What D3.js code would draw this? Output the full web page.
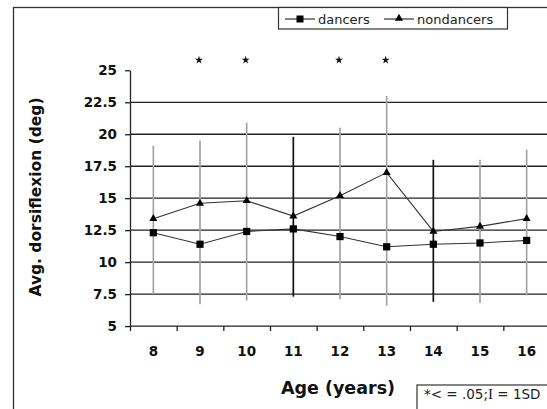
<!DOCTYPE html>
<html>
<head>
<meta charset="utf-8">
<script src="https://cdn.jsdelivr.net/npm/d3@7"></script>
<style>
  html, body { margin: 0; padding: 0; background: #fff; }
  svg { display: block; }
</style>
</head>
<body>
<svg id="chart"></svg>
<script>
// age groups (x categories)
const ages = [8, 9, 10, 11, 12, 13, 14, 15, 16];

// mean dorsiflexion per group
const dancers = [12.3, 11.4, 12.4, 12.6, 12.0, 11.2, 11.4, 11.5, 11.7];
const nondancers = [13.4, 14.6, 14.8, 13.6, 15.2, 17.0, 12.4, 12.8, 13.4];

// 1SD range drawn as one vertical bar per age
const sdLow = [7.5, 6.7, 7.0, 7.3, 7.1, 6.6, 6.9, 6.8, 7.4];
const sdHigh = [19.1, 19.5, 20.9, 19.8, 20.5, 23.0, 18.0, 18.0, 18.8];

// ages with p <= .05
const significant = [9, 10, 12, 13];

const yTicks = [5, 7.5, 10, 12.5, 15, 17.5, 20, 22.5, 25];

const width = 547;
const height = 409;

const MARGINS = { top: 70.3, bottom: 77.3, left: 130, right: -3 };

const svg = d3.select("#chart").attr("width", width).attr("height", height);

const font = "'DejaVu Sans', sans-serif";

// outer frame (runs off the picture on the right and bottom)
svg.append("rect")
  .attr("x", 13.5).attr("y", 7.5)
  .attr("width", 600).attr("height", 500)
  .attr("fill", "none").attr("stroke", "#333").attr("stroke-width", 1.3);

const y = d3.scaleLinear()
  .domain([5, 25])
  .range([height - MARGINS.bottom - 5.6, MARGINS.top]);

const x = d3.scaleBand()
  .domain(ages)
  .range([MARGINS.left, 550]);

const xEdge = d3.scaleLinear()
  .domain([0, ages.length])
  .range([MARGINS.left, 550]);

// grid lines
svg.append("g")
  .selectAll("line")
  .data(yTicks.filter((d) => d > 5 && d < 25))
  .join("line")
  .attr("x1", MARGINS.left).attr("x2", width + 5)
  .attr("y1", (d) => y(d)).attr("y2", (d) => y(d))
  .attr("stroke", "#222").attr("stroke-width", 1.3);

// x axis: ticks on the band edges, labels at band centres
const xAxisG = svg.append("g")
  .attr("transform", `translate(0, ${y(5)})`)
  .call(d3.axisBottom(xEdge).tickValues(d3.range(0, ages.length + 1)).tickFormat("").tickSize(5).tickSizeOuter(0));
xAxisG.select(".domain").attr("d", `M${MARGINS.left},0H${width + 5}`);
xAxisG.selectAll("line, path").attr("stroke", "#222").attr("stroke-width", 1.3);

svg.append("g")
  .attr("transform", `translate(0, ${y(5)})`)
  .call(d3.axisBottom(x).tickSize(0).tickPadding(20))
  .call((g) => g.select(".domain").remove())
  .selectAll("text")
  .attr("font-family", font).attr("font-weight", "bold").attr("font-size", 13.5).attr("fill", "#111");

// y axis
const yAxisG = svg.append("g")
  .attr("transform", `translate(${MARGINS.left}, 0)`)
  .call(d3.axisLeft(y).tickValues(yTicks).tickFormat((d) => d).tickSize(5).tickSizeOuter(0).tickPadding(8));
yAxisG.selectAll("line, path").attr("stroke", "#222").attr("stroke-width", 1.3);
yAxisG.selectAll("text")
  .attr("font-family", font).attr("font-weight", "bold").attr("font-size", 13.5).attr("fill", "#111");

// SD bars
svg.append("g")
  .selectAll("line")
  .data(ages)
  .join("line")
  .attr("x1", (d) => x(d) + x.bandwidth() / 2)
  .attr("x2", (d) => x(d) + x.bandwidth() / 2)
  .attr("y1", (d, i) => y(sdLow[i]))
  .attr("y2", (d, i) => y(sdHigh[i]))
  .attr("stroke", (d) => (d === 11 || d === 14 ? "#111" : "#a3a3a3"))
  .attr("stroke-width", 1.7);

const cx = (d, i) => x(ages[i]) + x.bandwidth() / 2;

const line = d3.line()
  .x(cx)
  .y((d) => y(d));

svg.append("path")
  .datum(nondancers)
  .attr("d", line)
  .attr("fill", "none").attr("stroke", "#333").attr("stroke-width", 1.1);

svg.append("path")
  .datum(dancers)
  .attr("d", line)
  .attr("fill", "none").attr("stroke", "#333").attr("stroke-width", 1.1);

// markers
const triangle = d3.symbol(d3.symbolTriangle).size(28);

svg.append("g")
  .selectAll("path")
  .data(nondancers)
  .join("path")
  .attr("d", triangle)
  .attr("transform", (d, i) => `translate(${cx(d, i)}, ${y(d)})`)
  .attr("fill", "#000");

svg.append("g")
  .selectAll("rect")
  .data(dancers)
  .join("rect")
  .attr("x", (d, i) => cx(d, i) - 3.6)
  .attr("y", (d) => y(d) - 3.6)
  .attr("width", 7.2).attr("height", 7.2)
  .attr("fill", "#000");

// significance stars
svg.append("g")
  .selectAll("path")
  .data(significant)
  .join("path")
  .attr("d", d3.symbol(d3.symbolStar).size(20))
  .attr("transform", (d) => `translate(${x(d) + x.bandwidth() / 2 - 1}, ${y(25.8)})`)
  .attr("fill", "#111");

// axis titles
svg.append("text")
  .attr("x", 338).attr("y", 394)
  .attr("text-anchor", "middle")
  .attr("font-family", font).attr("font-weight", "bold").attr("font-size", 17.5).attr("fill", "#111")
  .text("Age (years)");

svg.append("text")
  .attr("transform", "translate(41, 197) rotate(-90)")
  .attr("text-anchor", "middle")
  .attr("font-family", font).attr("font-weight", "bold").attr("font-size", 15.5).attr("fill", "#111")
  .text("Avg. dorsiflexion (deg)");

// legend
const legend = svg.append("g");
legend.append("rect")
  .attr("x", 278.5).attr("y", 7.5)
  .attr("width", 229).attr("height", 21.5)
  .attr("fill", "#fff").attr("stroke", "#333").attr("stroke-width", 1.2);

const legendItems = [
  { name: "dancers", x0: 285, shape: "square" },
  { name: "nondancers", x0: 384, shape: "triangle" },
];

legendItems.forEach((item) => {
  legend.append("line")
    .attr("x1", item.x0).attr("x2", item.x0 + 30)
    .attr("y1", 19).attr("y2", 19)
    .attr("stroke", "#222").attr("stroke-width", 1.1);
  if (item.shape === "square") {
    legend.append("rect")
      .attr("x", item.x0 + 11.5).attr("y", 15.5)
      .attr("width", 7).attr("height", 7).attr("fill", "#000");
  } else {
    legend.append("path")
      .attr("d", triangle)
      .attr("transform", `translate(${item.x0 + 15}, 18.5)`)
      .attr("fill", "#000");
  }
  legend.append("text")
    .attr("x", item.x0 + 33).attr("y", 24)
    .attr("font-family", font).attr("font-size", 13).attr("fill", "#222")
    .text(item.name);
});

// footnote box
svg.append("rect")
  .attr("x", 417).attr("y", 385)
  .attr("width", 200).attr("height", 60)
  .attr("fill", "#fff").attr("stroke", "#333").attr("stroke-width", 1.2);

const note = svg.append("text")
  .attr("x", 424).attr("y", 399)
  .attr("font-family", font).attr("font-size", 13.5).attr("fill", "#222");
note.append("tspan").text("*< = .05;");
note.append("tspan").attr("font-family", "'Liberation Serif', serif").attr("font-size", 15).text("I");
note.append("tspan").text(" = 1SD");
</script>
</body>
</html>
